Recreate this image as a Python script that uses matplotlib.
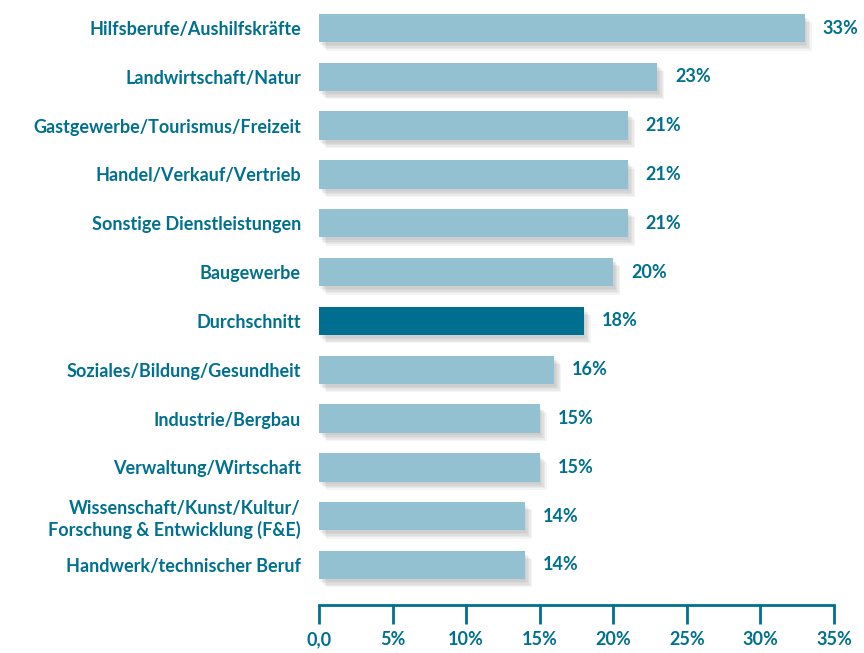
import matplotlib.pyplot as plt
import matplotlib.patheffects as pe

kategorien = [
    "Hilfsberufe/Aushilfskräfte",
    "Landwirtschaft/Natur",
    "Gastgewerbe/Tourismus/Freizeit",
    "Handel/Verkauf/Vertrieb",
    "Sonstige Dienstleistungen",
    "Baugewerbe",
    "Durchschnitt",
    "Soziales/Bildung/Gesundheit",
    "Industrie/Bergbau",
    "Verwaltung/Wirtschaft",
    "Wissenschaft/Kunst/Kultur/\nForschung & Entwicklung (F&E)",
    "Handwerk/technischer Beruf",
]
werte = [33, 23, 21, 21, 21, 20, 18, 16, 15, 15, 14, 14]
xticks = [0, 5, 10, 15, 20, 25, 30, 35]
xticklabels = ["0,0", "5%", "10%", "15%", "20%", "25%", "30%", "35%"]

teal = "#00708f"
hell = "#94c1d1"
dunkel = "#006e8e"

plt.rcParams["font.family"] = ["Lato", "DejaVu Sans"]
plt.rcParams["font.weight"] = "bold"

fig = plt.figure(figsize=(8.64, 6.53), dpi=100)
ax = fig.add_axes([319 / 864, 1 - 605 / 653, (834 - 319) / 864, 605 / 653])

pos = list(range(len(werte)))
farben = [dunkel if k == "Durchschnitt" else hell for k in kategorien]
bars = ax.barh(pos, werte, height=0.58, color=farben, zorder=2)

# weicher Schatten: mehrere leichte Schichten
schatten = [pe.SimplePatchShadow(offset=(o, -o - 1), shadow_rgbFace="#666666", alpha=0.07)
            for o in (1, 2, 3, 4, 5)]
for b in bars:
    b.set_path_effects(schatten + [pe.Normal()])

for p, v in zip(pos, werte):
    ax.text(v + 1.2, p, f"{v}%", va="center", ha="left", color=teal,
            fontsize=13, fontweight="bold")

ax.set_xlim(0, 35)
ax.set_ylim(11.82, -0.574)
ax.set_yticks(pos)
ax.set_yticklabels(kategorien, color=teal, fontsize=13, fontweight="bold", linespacing=1.25)
ax.tick_params(axis="y", length=0, pad=13)

ax.set_xticks(xticks)
ax.set_xticklabels(xticklabels, color=teal, fontsize=13, fontweight="bold")
ax.tick_params(axis="x", direction="out", length=14, width=2, color=teal, pad=5)

for s in ["top", "right", "left"]:
    ax.spines[s].set_visible(False)
ax.spines["bottom"].set_color(teal)
ax.spines["bottom"].set_linewidth(2)

fig.savefig("out.png", dpi=100)
